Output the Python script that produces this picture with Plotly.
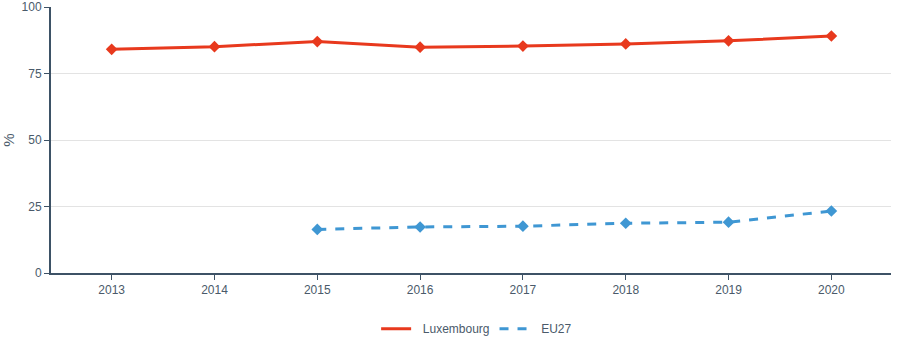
import plotly.graph_objects as go

years = [2013, 2014, 2015, 2016, 2017, 2018, 2019, 2020]
lux_values = [84.1, 85.1, 87.0, 84.9, 85.3, 86.1, 87.3, 89.1]
eu_years = [2015, 2016, 2017, 2018, 2019, 2020]
eu_values = [16.4, 17.3, 17.6, 18.7, 19.1, 23.3]
series_names = ["Luxembourg", "EU27"]

RED = "#e8391d"
BLUE = "#3f97d3"
PAD = "\u00a0\u00a0"

fig = go.Figure()
fig.add_trace(go.Scatter(x=years, y=lux_values, name=series_names[0], mode="lines+markers",
                         legendgroup="lux", showlegend=False,
                         line=dict(color=RED, width=3),
                         marker=dict(symbol="diamond", size=9, color=RED)))
fig.add_trace(go.Scatter(x=eu_years, y=eu_values, name=series_names[1], mode="lines+markers",
                         legendgroup="eu", showlegend=False,
                         line=dict(color=BLUE, width=3, dash="dash"),
                         marker=dict(symbol="diamond", size=9, color=BLUE)))
# legend entries (lines only)
fig.add_trace(go.Scatter(x=[None], y=[None], name=PAD + series_names[0], mode="lines",
                         legendgroup="lux", line=dict(color=RED, width=3)))
fig.add_trace(go.Scatter(x=[None], y=[None], name=PAD + series_names[1], mode="lines",
                         legendgroup="eu", line=dict(color=BLUE, width=3, dash="dash")))

fig.update_layout(
    width=900, height=360,
    margin=dict(l=51, r=9, t=7, b=87, autoexpand=False),
    plot_bgcolor="white", paper_bgcolor="white",
    font=dict(family="Arial, Liberation Sans, sans-serif", size=12, color="#4a5a6a"),
    showlegend=True,
    legend=dict(orientation="h", x=0.5067, xanchor="center", y=-0.155, yanchor="top",
                font=dict(size=12, color="#4a5a6a"), itemwidth=30),
    xaxis=dict(range=[2012.41, 2020.58], tickmode="array", tickvals=years,
               ticktext=[str(y) for y in years], showgrid=False, automargin=False,
               showline=True, linecolor="#3d5266", linewidth=2,
               ticks="outside", ticklen=5, tickcolor="#3d5266"),
    yaxis=dict(range=[0, 100], tickvals=[0, 25, 50, 75, 100], showgrid=True,
               gridcolor="#e3e3e3", gridwidth=1, automargin=False,
               showline=True, linecolor="#3d5266", linewidth=2,
               ticks="outside", ticklen=5, tickcolor="#3d5266",
               title=dict(text="%", standoff=8, font=dict(size=15)), zeroline=False),
)

fig.write_html("out.html", post_script="document.body.style.margin='0';",
               config={"displayModeBar": False})
